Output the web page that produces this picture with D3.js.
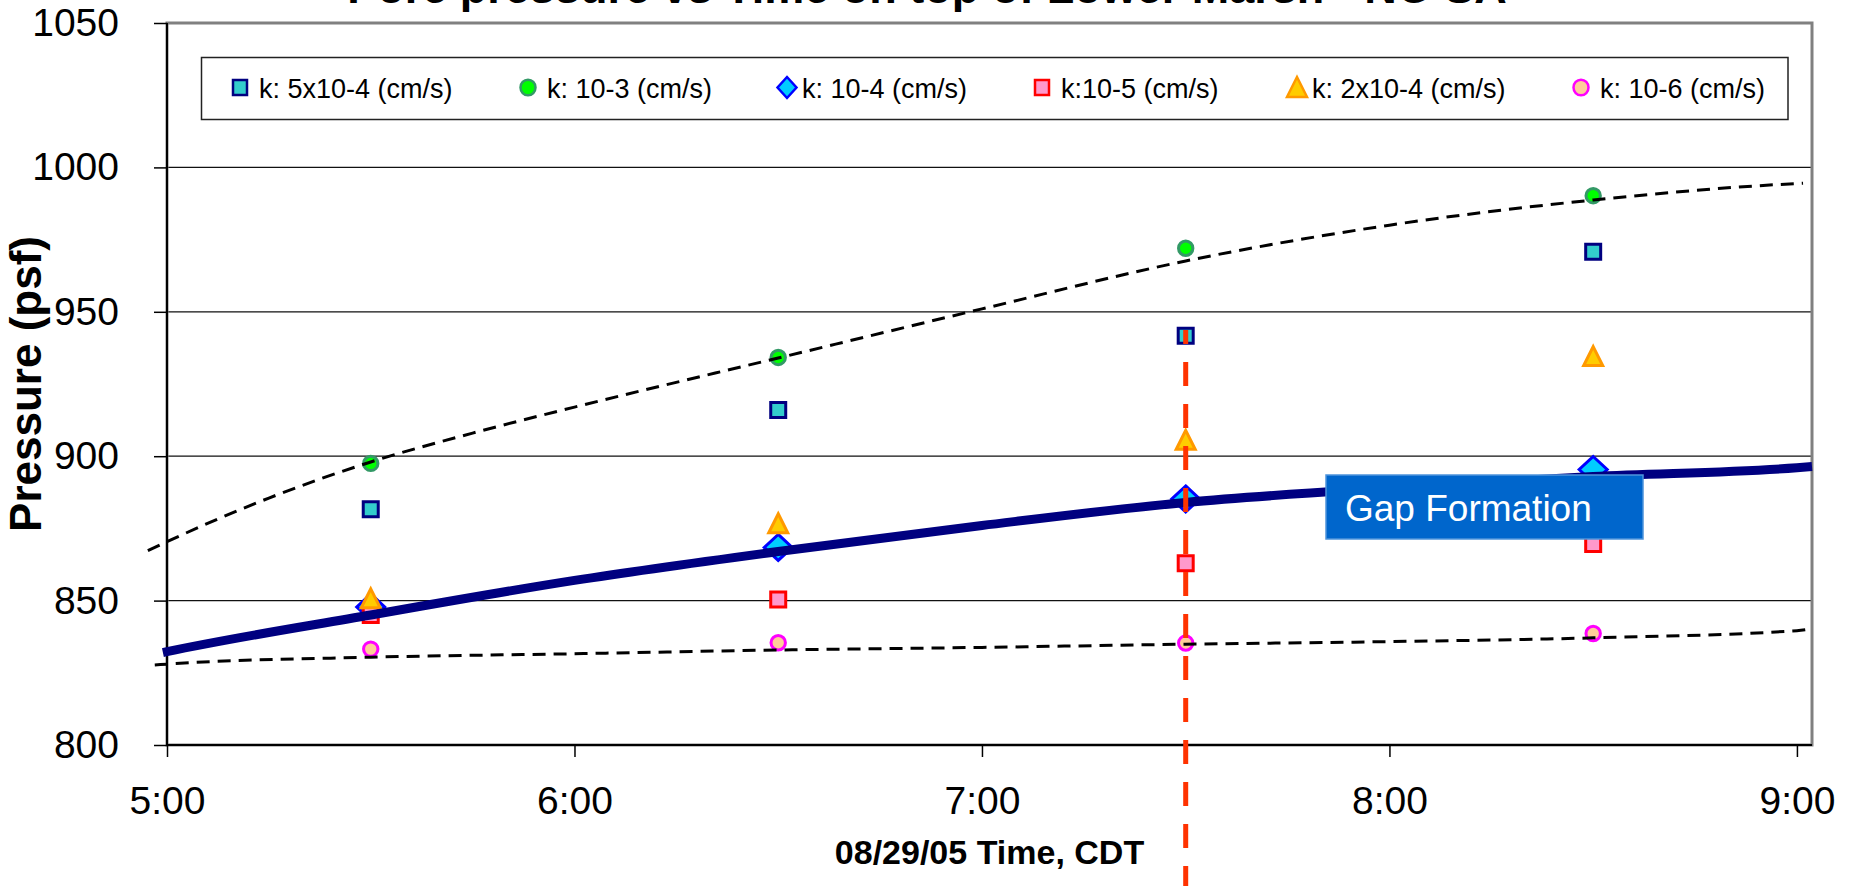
<!DOCTYPE html>
<meta charset="utf-8">
<head>
<style>
body { margin: 0; background: #fff; }
svg { display: block; font-family: "Liberation Sans", Arial, sans-serif; }
.axis path { display: none; }
.axis line { stroke: #000; stroke-width: 1.5px; }
.axis text { font-size: 39px; fill: #000; }
</style>
</head>
<body>
<div id="chart"></div>
<script src="https://d3js.org/d3.v7.min.js"></script>
<script>

// sample times, hours after midnight on 08/29/05
var times = [5.5, 6.5, 7.5, 8.5];

var seriesNames = ["k: 5x10-4 (cm/s)", "k: 10-3 (cm/s)", "k: 10-4 (cm/s)",
                   "k:10-5 (cm/s)", "k: 2x10-4 (cm/s)", "k: 10-6 (cm/s)"];
var k5x10m4 = [881.6, 916.0, 941.7, 970.8];
var k10m3   = [897.5, 934.2, 972.0, 990.2];
var k10m4   = [847.8, 868.4, 885.2, 895.4];
var k10m5   = [845.0, 850.4, 862.9, 869.6];
var k2x10m4 = [850.6, 876.6, 905.5, 934.5];
var k10m6   = [833.2, 835.4, 835.3, 838.6];

// fitted curves
var fitMidTimes   = [4.99, 5.0, 5.5, 6.0, 6.5, 7.0, 7.5, 8.0, 8.5, 9.0, 9.037];
var fitMid        = [832.0, 832.3, 845.0, 857.0, 867.0, 876.0, 884.0, 889.0, 893.0, 896.0, 896.4];
var fitUpperTimes = [4.953, 5.0, 5.25, 5.5, 5.75, 6.0, 6.5, 7.0, 7.5, 8.0, 8.5, 9.0, 9.015];
var fitUpper      = [867.3, 870.4, 885.5, 898.0, 908.0, 917.0, 934.0, 951.0, 967.6, 980.0, 988.7, 994.4, 994.5];
var fitLowerTimes = [4.97, 5.0, 5.5, 6.0, 6.5, 7.0, 7.5, 8.0, 8.5, 9.0, 9.037];
var fitLower      = [827.7, 828.0, 830.4, 831.6, 832.9, 833.8, 834.9, 835.8, 837.1, 839.6, 840.3];

// gap formation marker
var gapTime = 7.5;
var gapTop = 943.7;
var gapLabel = "Gap Formation";

var xTicks = [5, 6, 7, 8, 9];
var yTicks = [800, 850, 900, 950, 1000, 1050];

var title = "Pore pressure vs Time on top of Lower Marsh - NO SA";
var xTitle = "08/29/05 Time, CDT";
var yTitle = "Pressure (psf)";

var W = 1854, H = 886;
var plotL = 167, plotR = 1812, plotT = 23, plotB = 745;

var svg = d3.select("#chart").append("svg")
    .attr("width", W)
    .attr("height", H);

svg.append("rect").attr("width", W).attr("height", H).attr("fill", "#fff");

var x = d3.scaleLinear().domain([5, 9.037]).range([plotL, plotR]);
var y = d3.scaleLinear().domain([800, 1050]).range([plotB, plotT]);

// title (mostly cut off at the top)
svg.append("text")
    .attr("x", W / 2)
    .attr("y", 3)
    .attr("text-anchor", "middle")
    .style("font-size", "45px")
    .style("font-weight", "bold")
    .text(title);

// gridlines
svg.append("g")
  .selectAll("line")
  .data(yTicks.filter(function(d){ return d > 800 && d < 1050; }))
  .enter().append("line")
    .attr("x1", plotL).attr("x2", plotR)
    .attr("y1", function(d){ return y(d); })
    .attr("y2", function(d){ return y(d); })
    .attr("stroke", "#111")
    .attr("stroke-width", 1.3);

// plot area border
svg.append("rect")
    .attr("x", plotL).attr("y", plotT)
    .attr("width", plotR - plotL).attr("height", plotB - plotT)
    .attr("fill", "none")
    .attr("stroke", "#808080")
    .attr("stroke-width", 3);

svg.append("line")
    .attr("x1", plotL).attr("x2", plotL).attr("y1", plotT).attr("y2", plotB)
    .attr("stroke", "#000").attr("stroke-width", 2);
svg.append("line")
    .attr("x1", plotL).attr("x2", plotR).attr("y1", plotB).attr("y2", plotB)
    .attr("stroke", "#000").attr("stroke-width", 2);

// axes
svg.append("g")
    .attr("class", "axis")
    .attr("transform", "translate(" + plotL + ",0)")
    .call(d3.axisLeft(y).tickValues(yTicks).tickSize(13).tickPadding(35)
      .tickFormat(d3.format("d")));

svg.append("g")
    .attr("class", "axis")
    .attr("transform", "translate(0," + plotB + ")")
    .call(d3.axisBottom(x).tickValues(xTicks).tickSize(12).tickPadding(29)
      .tickFormat(function(d){ return d + ":00"; }));

// axis titles
svg.append("text")
    .attr("x", (plotL + plotR) / 2)
    .attr("y", 864)
    .attr("text-anchor", "middle")
    .style("font-size", "34px")
    .style("font-weight", "bold")
    .text(xTitle);

svg.append("text")
    .attr("transform", "translate(41," + ((plotT + plotB) / 2) + ") rotate(-90)")
    .attr("text-anchor", "middle")
    .style("font-size", "44px")
    .style("font-weight", "bold")
    .text(yTitle);

// marker shapes
function shapePath(shape, w, h) {
  if (shape == "square") {
    return "M" + (-w) + "," + (-h) + "H" + w + "V" + h + "H" + (-w) + "Z";
  }
  if (shape == "diamond") {
    return "M0," + (-h) + "L" + w + ",0L0," + h + "L" + (-w) + ",0Z";
  }
  if (shape == "triangle") {
    return "M0," + (-h) + "L" + w + "," + (h * 0.9) + "L" + (-w) + "," + (h * 0.9) + "Z";
  }
  // circle / ellipse
  return "M" + (-w) + ",0A" + w + "," + h + " 0 1,0 " + w + ",0A" + w + "," + h + " 0 1,0 " + (-w) + ",0Z";
}

var series = [
  {name: seriesNames[0], values: k5x10m4, shape: "square",   fill: "#33CCCC", stroke: "#000080", w: 7.5, h: 7.5,  lw: 7,   lh: 7.5},
  {name: seriesNames[1], values: k10m3,   shape: "circle",   fill: "#00FF00", stroke: "#339966", w: 7.2, h: 7.2,  lw: 7.5, lh: 7.8},
  {name: seriesNames[2], values: k10m4,   shape: "diamond",  fill: "#00CCFF", stroke: "#0000FF", w: 14,  h: 13,   lw: 9.5, lh: 10.5},
  {name: seriesNames[3], values: k10m5,   shape: "square",   fill: "#FF99CC", stroke: "#FF0000", w: 7.5, h: 7.5,  lw: 7,   lh: 7.5},
  {name: seriesNames[4], values: k2x10m4, shape: "triangle", fill: "#FFCC00", stroke: "#FF9900", w: 9.5, h: 10,   lw: 10,  lh: 10.5},
  {name: seriesNames[5], values: k10m6,   shape: "circle",   fill: "#FFCC99", stroke: "#FF00FF", w: 7.2, h: 7.2,  lw: 7.5, lh: 7.8}
];

series.forEach(function(s) {
  svg.append("g")
    .selectAll("path")
    .data(s.values)
    .enter().append("path")
      .attr("transform", function(d, i){ return "translate(" + x(times[i]) + "," + y(d) + ")"; })
      .attr("d", shapePath(s.shape, s.w, s.h))
      .attr("fill", s.fill)
      .attr("stroke", s.stroke)
      .attr("stroke-width", 3)
      .attr("stroke-linejoin", "miter");
});

// fitted curves
function curve(ts, vs) {
  return d3.line()
    .x(function(d, i){ return x(ts[i]); })
    .y(function(d){ return y(d); })
    .curve(d3.curveMonotoneX)(vs);
}

svg.append("path")
    .attr("d", curve(fitUpperTimes, fitUpper))
    .attr("fill", "none").attr("stroke", "#000")
    .attr("stroke-width", 3).attr("stroke-dasharray", "13,8");

svg.append("path")
    .attr("d", curve(fitLowerTimes, fitLower))
    .attr("fill", "none").attr("stroke", "#000")
    .attr("stroke-width", 3).attr("stroke-dasharray", "13,8");

svg.append("path")
    .attr("d", curve(fitMidTimes, fitMid))
    .attr("fill", "none").attr("stroke", "#000080")
    .attr("stroke-width", 9);

// gap formation line + label
svg.append("line")
    .attr("x1", x(gapTime)).attr("x2", x(gapTime))
    .attr("y1", y(gapTop)).attr("y2", H)
    .attr("stroke", "#FF3300")
    .attr("stroke-width", 5)
    .attr("stroke-dasharray", "24,18")
    .attr("stroke-dashoffset", 10);

svg.append("rect")
    .attr("x", 1326).attr("y", 475)
    .attr("width", 317).attr("height", 64)
    .attr("fill", "#0066CC")
    .attr("stroke", "#4D94DB")
    .attr("stroke-width", 1.5);

svg.append("text")
    .attr("x", 1345).attr("y", 521)
    .attr("fill", "#fff")
    .style("font-size", "37px")
    .text(gapLabel);

// legend
var legend = svg.append("g");
legend.append("rect")
    .attr("x", 201.5).attr("y", 57.5)
    .attr("width", 1586.5).attr("height", 62)
    .attr("fill", "#fff")
    .attr("stroke", "#222")
    .attr("stroke-width", 1.5);

var legendX = [240, 528, 787, 1042, 1297, 1581];

var item = legend.selectAll("g.item")
  .data(series)
  .enter().append("g")
    .attr("class", "item")
    .attr("transform", function(d, i){ return "translate(" + legendX[i] + ",87.5)"; });

item.append("path")
    .attr("d", function(d){ return shapePath(d.shape, d.lw, d.lh); })
    .attr("fill", function(d){ return d.fill; })
    .attr("stroke", function(d){ return d.stroke; })
    .attr("stroke-width", 2.5);

item.append("text")
    .attr("x", function(d, i){ return i == 2 ? 15 : (i == 4 ? 15 : 19); })
    .attr("y", 10)
    .style("font-size", "27px")
    .text(function(d){ return d.name; });

</script>
</body>
</html>
